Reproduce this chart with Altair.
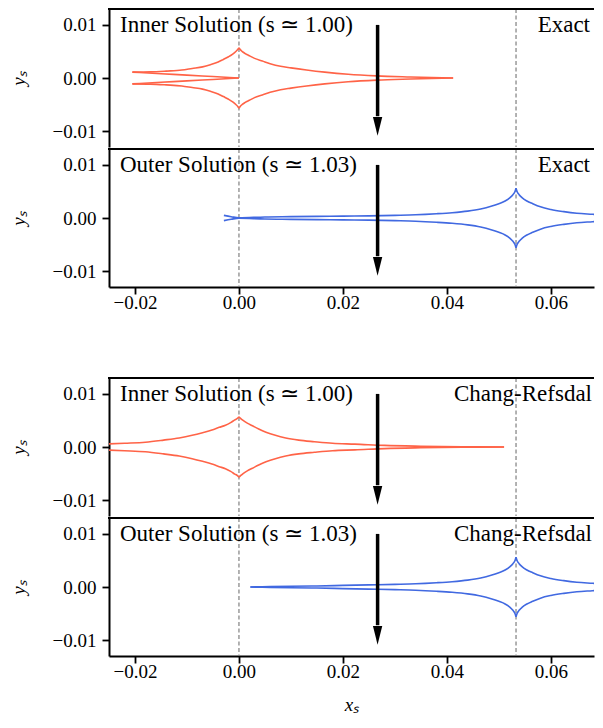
import altair as alt
import pandas as pd

# x range shown: the reference figure is cut at the right edge of the page
X_DOMAIN = [-0.025, 0.0683]
Y_DOMAIN = [-0.013, 0.013]
x_ticks = [-0.02, 0.0, 0.02, 0.04, 0.06]
y_ticks = [-0.01, 0.0, 0.01]

dash_x = [0.0, 0.0533]
arrow_x = [0.02667]
arrow_top = [0.0100]
arrow_base = [-0.0072]
arrow_head_y = [-0.0091]

RED = "#FF6347"
BLUE = "#4169E1"

# ---- Panel 1: Inner solution, exact ----
ie_left_x = [-0.0205, -0.017, -0.014, -0.011, -0.009, -0.007, -0.0055, -0.004, -0.003, -0.002, -0.0012, -0.0006, -0.0002, 0.0]
ie_left_up_y = [0.0011, 0.00115, 0.0013, 0.0015, 0.0018, 0.0021, 0.0025, 0.0030, 0.0035, 0.0040, 0.0045, 0.0050, 0.0054, 0.0057]
ie_left_lo_y = [-0.0011, -0.00115, -0.0013, -0.0015, -0.0018, -0.0021, -0.0025, -0.0030, -0.0035, -0.0040, -0.0045, -0.0050, -0.0054, -0.0057]
ie_right_x = [0.0, 0.0002, 0.0006, 0.0012, 0.002, 0.003, 0.0045, 0.006, 0.008, 0.010, 0.013, 0.0165, 0.021, 0.0265, 0.033, 0.0412]
ie_right_up_y = [0.0057, 0.0054, 0.0050, 0.0046, 0.0042, 0.0037, 0.0032, 0.0027, 0.0022, 0.0019, 0.0015, 0.0011, 0.0007, 0.0004, 0.0002, 0.0]
ie_right_lo_y = [-0.0057, -0.0054, -0.0050, -0.0046, -0.0042, -0.0037, -0.0032, -0.0027, -0.0022, -0.0019, -0.0015, -0.0011, -0.0007, -0.0004, -0.0002, 0.0]
ie_inner_x = [-0.0205, -0.015, -0.010, -0.005, 0.0]
ie_inner_up_y = [0.0011, 0.0008, 0.00055, 0.00027, 0.0]
ie_inner_lo_y = [-0.0011, -0.0008, -0.00055, -0.00027, 0.0]

# ---- Panel 2: Outer solution, exact ----
oe_left_x = [-0.0029, -0.0015, 0.0, 0.005, 0.010, 0.015, 0.020, 0.025, 0.030, 0.034, 0.038, 0.041, 0.044, 0.0465, 0.0485, 0.050, 0.0512, 0.0521, 0.0527, 0.0531, 0.0533]
oe_left_up_y = [0.0005, 0.00025, 0.00003, 0.0002, 0.00025, 0.0003, 0.00035, 0.0004, 0.0005, 0.0006, 0.0008, 0.0010, 0.0013, 0.0017, 0.0022, 0.0027, 0.0032, 0.0038, 0.0044, 0.0050, 0.0056]
oe_left_lo_y = [-0.0005, -0.00025, -0.00003, -0.0002, -0.00025, -0.0003, -0.00035, -0.0004, -0.0005, -0.0006, -0.0008, -0.0010, -0.0013, -0.0017, -0.0022, -0.0027, -0.0032, -0.0038, -0.0044, -0.0050, -0.0056]
oe_right_x = [0.0533, 0.0535, 0.0539, 0.0545, 0.0554, 0.0565, 0.058, 0.060, 0.0625, 0.065, 0.068, 0.071, 0.075]
oe_right_up_y = [0.0056, 0.0050, 0.0044, 0.0038, 0.0032, 0.0027, 0.0021, 0.0016, 0.0012, 0.0009, 0.0007, 0.0005, 0.0004]
oe_right_lo_y = [-0.0056, -0.0050, -0.0044, -0.0038, -0.0032, -0.0027, -0.0021, -0.0016, -0.0012, -0.0009, -0.0007, -0.0005, -0.0004]

# ---- Panel 3: Inner solution, Chang-Refsdal ----
ic_left_x = [-0.027, -0.022, -0.018, -0.0145, -0.0115, -0.009, -0.007, -0.0052, -0.0038, -0.0026, -0.0016, -0.0008, -0.0003, 0.0]
ic_left_up_y = [0.0005, 0.0007, 0.0009, 0.0013, 0.0017, 0.0022, 0.0027, 0.0032, 0.0037, 0.0041, 0.0046, 0.0051, 0.0054, 0.0057]
ic_left_lo_y = [-0.0005, -0.0007, -0.0009, -0.0013, -0.0017, -0.0022, -0.0027, -0.0032, -0.0037, -0.0041, -0.0046, -0.0051, -0.0054, -0.0057]
ic_right_x = [0.0, 0.0003, 0.0008, 0.0016, 0.0026, 0.0038, 0.0052, 0.007, 0.009, 0.0115, 0.0145, 0.018, 0.0223, 0.028, 0.035, 0.043, 0.051]
ic_right_up_y = [0.0057, 0.0054, 0.0050, 0.0045, 0.0040, 0.0034, 0.0028, 0.0022, 0.0017, 0.0013, 0.0010, 0.0007, 0.00055, 0.0003, 0.00015, 0.00005, 0.0]
ic_right_lo_y = [-0.0057, -0.0054, -0.0050, -0.0045, -0.0040, -0.0034, -0.0028, -0.0022, -0.0017, -0.0013, -0.0010, -0.0007, -0.00055, -0.0003, -0.00015, -0.00005, 0.0]

# ---- Panel 4: Outer solution, Chang-Refsdal ----
oc_left_x = [0.0022, 0.006, 0.010, 0.015, 0.020, 0.025, 0.030, 0.034, 0.038, 0.041, 0.044, 0.0465, 0.0485, 0.050, 0.0512, 0.0521, 0.0527, 0.0531, 0.0533]
oc_left_up_y = [0.0, 0.00008, 0.00015, 0.0002, 0.0003, 0.0004, 0.0005, 0.0006, 0.0008, 0.0010, 0.0013, 0.0017, 0.0022, 0.0027, 0.0032, 0.0038, 0.0044, 0.0050, 0.0056]
oc_left_lo_y = [0.0, -0.00008, -0.00015, -0.0002, -0.0003, -0.0004, -0.0005, -0.0006, -0.0008, -0.0010, -0.0013, -0.0017, -0.0022, -0.0027, -0.0032, -0.0038, -0.0044, -0.0050, -0.0056]
oc_right_x = [0.0533, 0.0535, 0.0539, 0.0545, 0.0554, 0.0565, 0.058, 0.060, 0.0625, 0.065, 0.068, 0.071, 0.075]
oc_right_up_y = [0.0056, 0.0050, 0.0044, 0.0038, 0.0032, 0.0027, 0.0021, 0.0016, 0.0012, 0.0009, 0.0007, 0.0005, 0.0004]
oc_right_lo_y = [-0.0056, -0.0050, -0.0044, -0.0038, -0.0032, -0.0027, -0.0021, -0.0016, -0.0012, -0.0009, -0.0007, -0.0005, -0.0004]

FONT = "Liberation Serif"
W, H = 485, 138
TXT = 23


def curve_df(branches):
    rows = []
    for name, xs, ys in branches:
        for i, (xv, yv) in enumerate(zip(xs, ys)):
            rows.append({"branch": name, "ord": i, "x": xv, "y": yv})
    return pd.DataFrame(rows)


def xenc(field, show_axis, title):
    sc = alt.Scale(domain=X_DOMAIN, nice=False, zero=False)
    if show_axis:
        ax = alt.Axis(values=x_ticks, format=".2f", title=title, grid=False,
                      domain=True, domainColor="black", domainWidth=2,
                      tickSize=7, tickWidth=1.8, labelPadding=-1, titlePadding=14,
                      titleFontStyle="italic", titleFontSize=19)
        return alt.X(field, type="quantitative", scale=sc, axis=ax)
    return alt.X(field, type="quantitative", scale=sc, axis=None)


def yenc(field):
    sc = alt.Scale(domain=Y_DOMAIN, nice=False, zero=False)
    ax = alt.Axis(values=y_ticks, format=".2f", title="yₛ", grid=False,
                  domain=True, domainColor="black", domainWidth=2,
                  tickSize=7, tickWidth=1.8, labelPadding=6, titlePadding=24,
                  titleFontStyle="italic", titleFontSize=19)
    return alt.Y(field, type="quantitative", scale=sc, axis=ax)


def panel(branches, color, left_text, right_text, right_px, show_x, x_title):
    cdf = curve_df(branches)
    dashes = alt.Chart(pd.DataFrame({"x": dash_x})).mark_rule(
        color="#808080", strokeWidth=1.2, strokeDash=[4, 2.5]
    ).encode(x=xenc("x", show_x, x_title))
    curves = alt.Chart(cdf).mark_line(color=color, strokeWidth=1.6, clip=True, interpolate="monotone").encode(
        x=xenc("x", show_x, x_title), y=yenc("y"), detail="branch:N", order="ord:Q"
    )
    arr = pd.DataFrame({"x": arrow_x, "y": arrow_top, "y2": arrow_base, "yh": arrow_head_y})
    shaft = alt.Chart(arr).mark_rule(color="black", strokeWidth=3.5).encode(
        x=xenc("x", show_x, x_title), y=yenc("y"), y2="y2:Q"
    )
    head = alt.Chart(arr).mark_point(
        shape="M-0.5,-1L0.5,-1L0,1Z", size=350, filled=True, color="black", opacity=1, strokeWidth=0
    ).encode(x=xenc("x", show_x, x_title), y=yenc("yh"))
    top_border = alt.Chart(pd.DataFrame({"k": [0]})).mark_rule(color="black", strokeWidth=2).encode(
        x=alt.value(-1), x2=alt.value(W), y=alt.value(0)
    )
    ltxt = alt.Chart(pd.DataFrame({"t": [left_text]})).mark_text(
        align="left", baseline="alphabetic", font=FONT, fontSize=TXT, color="black"
    ).encode(x=alt.value(11), y=alt.value(23), text="t:N")
    rtxt = alt.Chart(pd.DataFrame({"t": [right_text]})).mark_text(
        align="right", baseline="alphabetic", font=FONT, fontSize=TXT, color="black"
    ).encode(x=alt.value(right_px), y=alt.value(23), text="t:N")
    return alt.layer(dashes, curves, shaft, head, top_border, ltxt, rtxt).properties(width=W, height=H)


p1 = panel([("lu", ie_left_x, ie_left_up_y), ("ll", ie_left_x, ie_left_lo_y),
            ("ru", ie_right_x, ie_right_up_y), ("rl", ie_right_x, ie_right_lo_y),
            ("iu", ie_inner_x, ie_inner_up_y), ("il", ie_inner_x, ie_inner_lo_y)],
           RED, "Inner Solution (s ≃ 1.00)", "Exact", 481, False, None)
p2 = panel([("lu", oe_left_x, oe_left_up_y), ("ll", oe_left_x, oe_left_lo_y),
            ("ru", oe_right_x, oe_right_up_y), ("rl", oe_right_x, oe_right_lo_y)],
           BLUE, "Outer Solution (s ≃ 1.03)", "Exact", 481, True, None)
p3 = panel([("lu", ic_left_x, ic_left_up_y), ("ll", ic_left_x, ic_left_lo_y),
            ("ru", ic_right_x, ic_right_up_y), ("rl", ic_right_x, ic_right_lo_y)],
           RED, "Inner Solution (s ≃ 1.00)", "Chang-Refsdal", 483, False, None)
p4 = panel([("lu", oc_left_x, oc_left_up_y), ("ll", oc_left_x, oc_left_lo_y),
            ("ru", oc_right_x, oc_right_up_y), ("rl", oc_right_x, oc_right_lo_y)],
           BLUE, "Outer Solution (s ≃ 1.03)", "Chang-Refsdal", 483, True, "xₛ")

chart = alt.vconcat(
    alt.vconcat(p1, p2, spacing=0),
    alt.vconcat(p3, p4, spacing=0),
    spacing=65,
).properties(
    padding={"left": 1, "top": 0, "right": 0, "bottom": 0}
).configure_axis(
    labelFont=FONT, labelFontSize=19, labelColor="black", tickColor="black",
    titleFont=FONT, titleColor="black", titleFontWeight="normal"
).configure_view(stroke="transparent", strokeWidth=0)

chart.save("out.html", embed_options={"renderer": "svg", "actions": False})
